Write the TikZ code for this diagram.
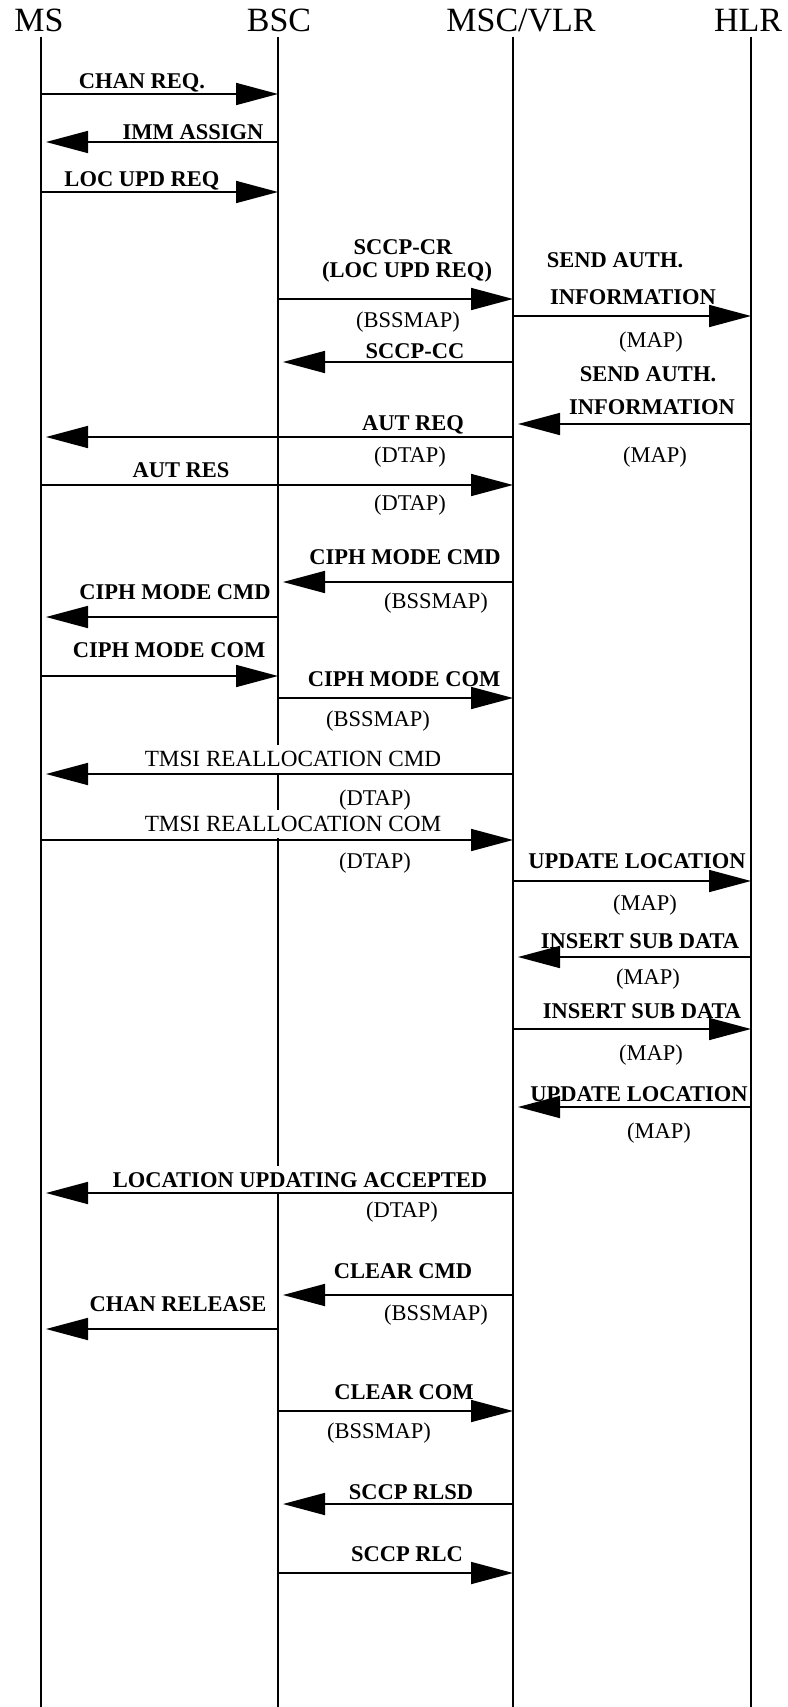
\documentclass[tikz,border=0pt]{standalone}
\usepackage{fontspec}
\setmainfont{Liberation Serif}
\usetikzlibrary{arrows.meta}
\begin{document}
\begin{tikzpicture}[x=1pt,y=-1pt,
  lifeline/.style={line width=1.7pt},
  msg/.style={line width=1.7pt,-{Triangle[length=42pt,width=22pt]}},
  back/.style={msg,shorten >=5pt},
  lbl/.style={font=\fontsize{22.5}{26}\selectfont\bfseries,fill=white,inner xsep=1pt,inner ysep=6pt},
  plainlbl/.style={lbl,font=\fontsize{23.2}{26}\selectfont},
  proto/.style={font=\fontsize{22.5}{26}\selectfont,inner sep=1pt},
  head/.style={font=\fontsize{34}{36}\selectfont,inner sep=0pt,anchor=base}]
\useasboundingbox (0,0) rectangle (787,1707);
% headers
\node[head] (MS)  at (39,32)  {MS};
\node[head] (BSC) at (279,32) {BSC};
\node[head] (MSC) at (521,32) {MSC/VLR};
\node[head] (HLR) at (748,32) {HLR};
% lifelines
\coordinate (ms)  at (41,37);  \coordinate (msE)  at (41,1707);
\coordinate (bsc) at (278,37); \coordinate (bscE) at (278,1707);
\coordinate (msc) at (513,37); \coordinate (mscE) at (513,1707);
\coordinate (hlr) at (751,37); \coordinate (hlrE) at (751,1707);
\draw[lifeline] (ms) -- (msE);
\draw[lifeline] (bsc) -- (bscE);
\draw[lifeline] (msc) -- (mscE);
\draw[lifeline] (hlr) -- (hlrE);
% labels
\node[lbl] (l1) at (142,83) {CHAN REQ.};
\node[lbl] (l2) at (193,132) {IMM ASSIGN};
\node[lbl] (l3) at (142,181) {LOC UPD REQ};
\node[lbl] (l4a) at (403,247) {SCCP-CR};
\node[lbl] (l4b) at (407,272) {(LOC UPD REQ)};
\node[proto] (p4) at (408,322) {(BSSMAP)};
\node[lbl] (l5a) at (615,260) {SEND AUTH.};
\node[lbl] (l5b) at (633,297) {INFORMATION};
\node[proto] (p5) at (651,342) {(MAP)};
\node[lbl] (l6) at (415,351) {SCCP-CC};
\node[lbl] (l7a) at (648,374) {SEND AUTH.};
\node[lbl] (l7b) at (652,407) {INFORMATION};
\node[proto] (p7) at (655,457) {(MAP)};
\node[lbl] (l8) at (413,425) {AUT REQ};
\node[proto] (p8) at (410,457) {(DTAP)};
\node[lbl] (l9) at (181,470) {AUT RES};
\node[proto] (p9) at (410,505) {(DTAP)};
\node[lbl] (l10) at (405,557) {CIPH MODE CMD};
\node[proto] (p10) at (436,603) {(BSSMAP)};
\node[lbl] (l11) at (175,592) {CIPH MODE CMD};
\node[lbl] (l12) at (169,650) {CIPH MODE COM};
\node[lbl] (l13) at (404,679) {CIPH MODE COM};
\node[proto] (p13) at (378,721) {(BSSMAP)};
\node[plainlbl] (l14) at (293,759) {TMSI REALLOCATION CMD};
\node[proto] (p14) at (375,800) {(DTAP)};
\node[plainlbl] (l15) at (293,824) {TMSI REALLOCATION COM};
\node[proto] (p15) at (375,863) {(DTAP)};
\node[lbl] (l16) at (637,861) {UPDATE LOCATION};
\node[proto] (p16) at (645,905) {(MAP)};
\node[lbl] (l17) at (640,941) {INSERT SUB DATA};
\node[proto] (p17) at (648,979) {(MAP)};
\node[lbl] (l18) at (642,1011) {INSERT SUB DATA};
\node[proto] (p18) at (651,1055) {(MAP)};
\node[lbl] (l19) at (639,1094) {UPDATE LOCATION};
\node[proto] (p19) at (659,1133) {(MAP)};
\node[lbl] (l20) at (300,1180) {LOCATION UPDATING ACCEPTED};
\node[proto] (p20) at (402,1212) {(DTAP)};
\node[lbl] (l21) at (403,1271) {CLEAR CMD};
\node[proto] (p21) at (436,1315) {(BSSMAP)};
\node[lbl] (l22) at (178,1304) {CHAN RELEASE};
\node[lbl] (l23) at (404,1392) {CLEAR COM};
\node[proto] (p23) at (379,1433) {(BSSMAP)};
\node[lbl] (l24) at (411,1492) {SCCP RLSD};
\node[lbl] (l25) at (407,1554) {SCCP RLC};
% messages
\draw[msg]  (ms |- 0,94)    -- (bsc |- 0,94);
\draw[back] (bsc |- 0,142)  -- (ms |- 0,142);
\draw[msg]  (ms |- 0,192)   -- (bsc |- 0,192);
\draw[msg]  (bsc |- 0,299)  -- (msc |- 0,299);
\draw[msg]  (msc |- 0,316)  -- (hlr |- 0,316);
\draw[back] (msc |- 0,362)  -- (bsc |- 0,362);
\draw[back] (hlr |- 0,424)  -- (msc |- 0,424);
\draw[back] (msc |- 0,437)  -- (ms |- 0,437);
\draw[msg]  (ms |- 0,485)   -- (msc |- 0,485);
\draw[back] (msc |- 0,582)  -- (bsc |- 0,582);
\draw[back] (bsc |- 0,617)  -- (ms |- 0,617);
\draw[msg]  (ms |- 0,676)   -- (bsc |- 0,676);
\draw[msg]  (bsc |- 0,698)  -- (msc |- 0,698);
\draw[back] (msc |- 0,774)  -- (ms |- 0,774);
\draw[msg]  (ms |- 0,840)   -- (msc |- 0,840);
\draw[msg]  (msc |- 0,881)  -- (hlr |- 0,881);
\draw[back] (hlr |- 0,957)  -- (msc |- 0,957);
\draw[msg]  (msc |- 0,1029) -- (hlr |- 0,1029);
\draw[back] (hlr |- 0,1107) -- (msc |- 0,1107);
\draw[back] (msc |- 0,1193) -- (ms |- 0,1193);
\draw[back] (msc |- 0,1295) -- (bsc |- 0,1295);
\draw[back] (bsc |- 0,1329) -- (ms |- 0,1329);
\draw[msg]  (bsc |- 0,1411) -- (msc |- 0,1411);
\draw[back] (msc |- 0,1504) -- (bsc |- 0,1504);
\draw[msg]  (bsc |- 0,1573) -- (msc |- 0,1573);
\end{tikzpicture}
\end{document}
